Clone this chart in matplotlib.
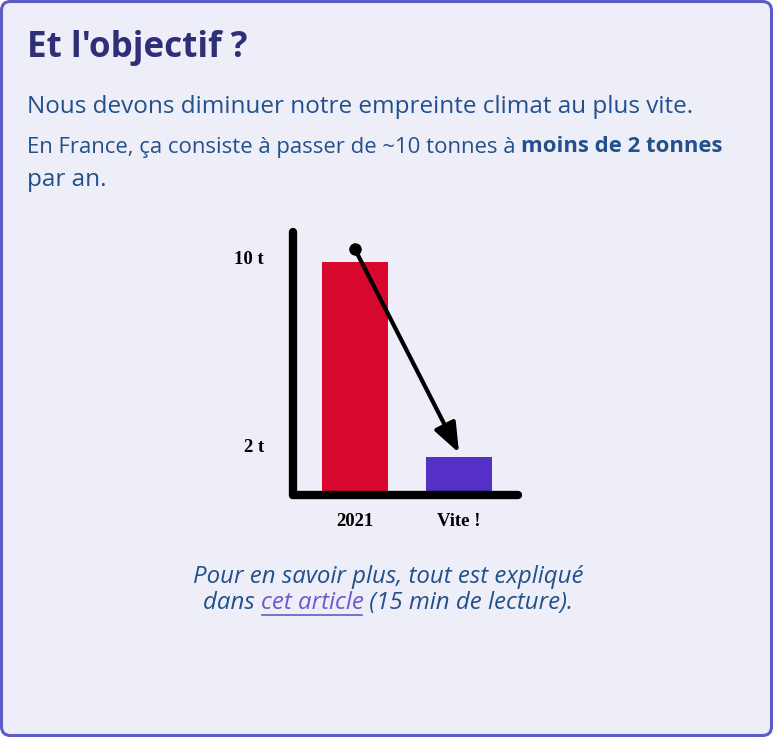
import matplotlib.pyplot as plt
from matplotlib.patches import FancyBboxPatch
from matplotlib.transforms import IdentityTransform

# data
categories = ['2021', 'Vite !']
values = [10, 1.5]
bar_colors = ['#d7072d', '#5530c6']
tick_values = [2, 10.2]
tick_labels = ['2 t', '10 t']
arrow_start = (0, 10.55)
arrow_end = (1, 1.7)

W, H = 773, 737
fig = plt.figure(figsize=(W / 100, H / 100), dpi=100, facecolor='white')
renderer = fig.canvas.get_renderer()

# card background with rounded border
card = FancyBboxPatch((1.5, 1.5), W - 3, H - 3,
                      boxstyle='round,pad=0,rounding_size=9',
                      transform=IdentityTransform(), facecolor='#eeeef8',
                      edgecolor='#5d5cc6', linewidth=2.2, zorder=-10)
fig.patches.append(card)

sans = ['Open Sans', 'DejaVu Sans']
title_col = '#2f2f78'
text_col = '#22508c'


def fx(px):
    return px / W


def fy(py):
    return 1 - py / H


def text_width(s, size, **kw):
    t = fig.text(0, 0, s, fontsize=size, **kw)
    w = t.get_window_extent(renderer).width
    t.remove()
    return w


def fit_size(s, width, **kw):
    # font size giving the text the width seen in the reference
    return 20 * width / text_width(s, 20, **kw)


line2a = 'En France, ça consiste à passer de ~10 tonnes à '
line2b = 'moins de 2 tonnes'

title_fs = fit_size("Et l'objectif ?", 220, family=sans, weight='bold')
body_fs = fit_size('Nous devons diminuer notre empreinte climat au plus vite.', 663, family=sans)
w2 = text_width(line2a, 20, family=sans) + text_width(line2b, 20, family=sans, weight='bold')
l2_fs = 20 * 693 / w2
foot_fs = fit_size('Pour en savoir plus, tout est expliqué', 390, family=sans, style='italic')

fig.text(fx(27), fy(48), "Et l'objectif ?", family=sans, weight='bold',
         fontsize=title_fs, color=title_col, va='center', ha='left')
fig.text(fx(27), fy(107), 'Nous devons diminuer notre empreinte climat au plus vite.',
         family=sans, fontsize=body_fs, color=text_col, va='center', ha='left')

t1 = fig.text(fx(27), fy(147), line2a, family=sans, fontsize=l2_fs,
              color=text_col, va='center', ha='left')
bb = t1.get_window_extent(renderer)
fig.text(bb.x1 / W, fy(147), line2b, family=sans, weight='bold',
         fontsize=l2_fs, color=text_col, va='center', ha='left')
fig.text(fx(27), fy(180), 'par an.', family=sans, fontsize=body_fs, color=text_col,
         va='center', ha='left')

# chart
ax = fig.add_axes([fx(293), fy(495), fx(518) - fx(293), fy(232) - fy(495)])
ax.set_facecolor('none')
ax.bar(range(len(categories)), values, width=0.635, color=bar_colors, zorder=1)
ax.set_xlim(-0.596, 1.567)
ax.set_ylim(-0.13, 11.3)
for s in ['top', 'right']:
    ax.spines[s].set_visible(False)
for s in ['left', 'bottom']:
    ax.spines[s].set_linewidth(6)
    ax.spines[s].set_capstyle('round')
    ax.spines[s].set_zorder(3)
ax.set_xticks(range(len(categories)), categories)
ax.set_yticks(tick_values, tick_labels)
ax.tick_params(length=0, pad=21)
ax.tick_params(axis='x', pad=13)
for lab in ax.get_xticklabels() + ax.get_yticklabels():
    lab.set_fontfamily('Liberation Serif')
    lab.set_fontweight('bold')
    lab.set_fontsize(13.5)

ax.annotate('', xy=arrow_end, xytext=arrow_start,
            arrowprops=dict(arrowstyle='-|>,head_length=0.9,head_width=0.35',
                            mutation_scale=20, color='black', lw=3,
                            shrinkA=0, shrinkB=0), zorder=4)
ax.plot(*arrow_start, 'o', color='black', markersize=8, zorder=5)

# footer
fig.text(fx(388), fy(577), 'Pour en savoir plus, tout est expliqué',
         family=sans, style='italic', fontsize=foot_fs, color=text_col,
         va='center', ha='center')
parts = [('dans ', text_col), ('cet article', '#6a5acd'), (' (15 min de lecture).', text_col)]
widths = [text_width(s, foot_fs, family=sans, style='italic') for s, c in parts]
x = 388 - sum(widths) / 2
for (s, c), w in zip(parts, widths):
    fig.text(fx(x), fy(603), s, family=sans, style='italic', fontsize=foot_fs,
             color=c, va='center', ha='left')
    if s == 'cet article':
        fig.add_artist(plt.Line2D([fx(x + 1), fx(x + w - 1)], [fy(615), fy(615)],
                                  color='#5d5cc6', lw=1.2))
    x += w

fig.savefig('out.png', dpi=100, facecolor='white')
